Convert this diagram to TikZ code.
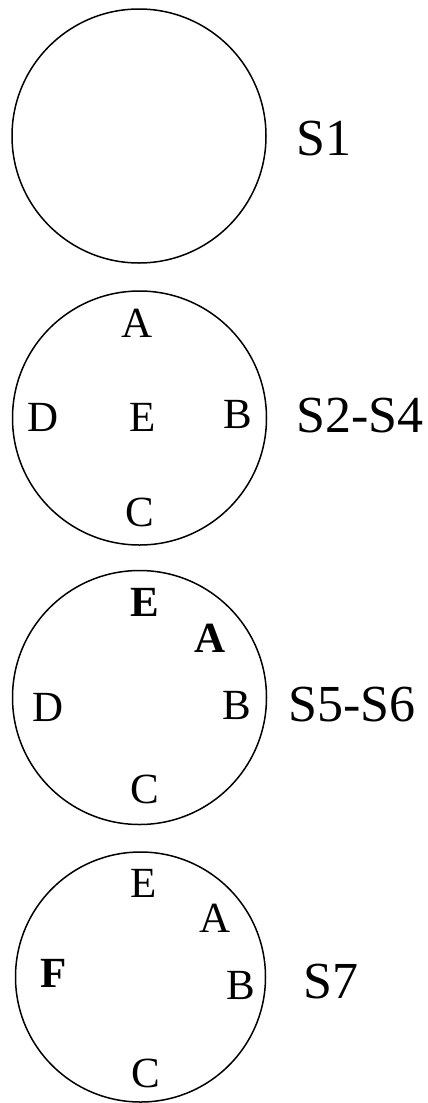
\documentclass[tikz,border=0pt]{standalone}
\usepackage{fontspec}
\setmainfont{Liberation Serif}
\begin{document}
\begin{tikzpicture}[x=1pt,y=-1pt,
  ring/.style={draw=black,line width=1.5pt},
  letter/.style={inner sep=0pt,font=\fontsize{43}{43}\selectfont},
  bletter/.style={inner sep=0pt,font=\fontsize{43}{43}\selectfont\bfseries},
  stage/.style={inner sep=0pt,font=\fontsize{52}{52}\selectfont}]
\useasboundingbox (0,0) rectangle (428,1103);
% four stages, each a circle with its label on the right
\draw[ring] (139,136) circle (127);
\draw[ring] (139.5,418) circle (127);
\draw[ring] (139.5,697.5) circle (127);
\draw[ring] (140.5,977) circle (125);

\node[stage] (s1) at (324,139) {S1};
\node[stage] (s2) at (360,416) {S2-S4};
\node[stage] (s5) at (352,705) {S5-S6};
\node[stage] (s7) at (331,982) {S7};

% S2-S4
\node[letter] (a2) at (137.5,323) {A};
\node[letter] (d2) at (43,417) {D};
\node[letter] (e2) at (143,417) {E};
\node[letter] (b2) at (237.5,414) {B};
\node[letter] (c2) at (140,512) {C};

% S5-S6
\node[bletter] (e5) at (145,602) {E};
\node[bletter] (a5) at (210,638) {A};
\node[letter] (d5) at (48,707) {D};
\node[letter] (b5) at (237,705) {B};
\node[letter] (c5) at (145,789) {C};

% S7
\node[letter] (e7) at (144,883) {E};
\node[letter] (a7) at (215,918) {A};
\node[bletter] (f7) at (54,973) {F};
\node[letter] (b7) at (241,985) {B};
\node[letter] (c7) at (146,1073) {C};
\end{tikzpicture}
\end{document}
